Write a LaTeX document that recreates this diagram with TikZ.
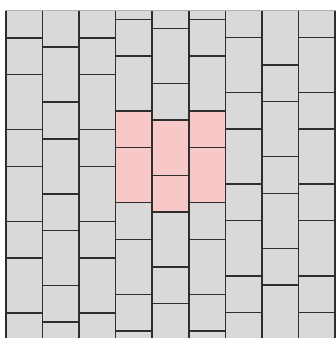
\documentclass[tikz,border=0pt]{standalone}
\definecolor{brick}{HTML}{D9D9D9}
\definecolor{pinkbrick}{HTML}{F8C8C9}
\definecolor{edge}{HTML}{2E2E2E}
\begin{document}
\begin{tikzpicture}[x=1pt,y=-1pt,
  brickfill/.style={fill=brick},
  pinkfill/.style={fill=pinkbrick},
  brickline/.style={draw=edge,line width=1.5pt}]
\useasboundingbox (0,0) rectangle (336,338);
\fill[white] (0,0) rectangle (336,338);
\begin{scope}
\clip (4.5,11) rectangle (337,339);
% fills
\foreach \col/\base in {0/38.0, 1/10.5, 2/38.0, 3/19.3, 4/83.6, 5/19.3, 6/0.7, 7/65.0, 8/0.7} {
  \pgfmathsetmacro{\xl}{6+\col*36.56}
  \pgfmathsetmacro{\xr}{\xl+36.56}
  \foreach \k in {-2,...,4} {
    \pgfmathsetmacro{\ya}{\base+\k*91.7}
    \pgfmathsetmacro{\yc}{\ya+91.7}
    \fill[brickfill] (\xl,\ya) rectangle (\xr,\yc);
  }
}
% highlighted bricks
\fill[pinkfill] (115.68,111.0) rectangle (152.24,202.7);
\fill[pinkfill] (152.24,120.2) rectangle (188.80,211.9);
\fill[pinkfill] (188.80,111.0) rectangle (225.36,202.7);
% outlines
\foreach \col/\base in {0/38.0, 1/10.5, 2/38.0, 3/19.3, 4/83.6, 5/19.3, 6/0.7, 7/65.0, 8/0.7} {
  \pgfmathsetmacro{\xl}{6+\col*36.56}
  \pgfmathsetmacro{\xr}{\xl+36.56}
  \foreach \k in {-2,...,4} {
    \pgfmathsetmacro{\ya}{\base+\k*91.7}
    \pgfmathsetmacro{\yb}{\ya+36.6}
    \pgfmathsetmacro{\yc}{\ya+91.7}
    \draw[brickline] (\xl,\ya) rectangle (\xr,\yb);
    \draw[brickline] (\xl,\yb) rectangle (\xr,\yc);
  }
}
\end{scope}
\draw[gray!60, line width=0.8pt] (5,10.6) -- (336,10.6);
\end{tikzpicture}
\end{document}
